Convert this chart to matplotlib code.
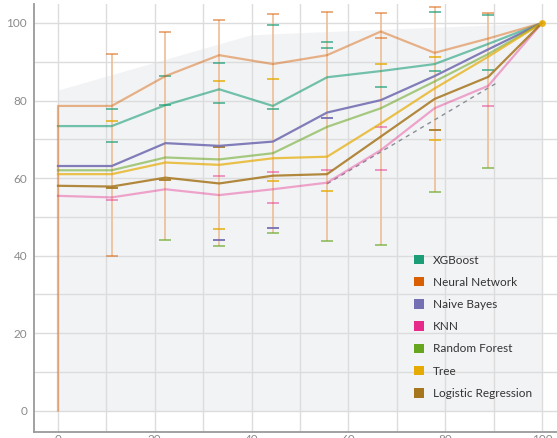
import numpy as np
import matplotlib
matplotlib.use("Agg")
import matplotlib.pyplot as plt
from matplotlib.patches import Patch

# x positions of the evaluation points (percent)
steps = [0, 11.1, 22.2, 33.3, 44.4, 55.6, 66.7, 77.8, 88.9, 100]

models = ["XGBoost", "Neural Network", "Naive Bayes", "KNN",
          "Random Forest", "Tree", "Logistic Regression"]
colors = ["#1b9e77", "#d95f02", "#7570b3", "#e7298a",
          "#66a61e", "#e6ab02", "#a6761d"]
line_alpha = [0.6, 0.45, 0.9, 0.4, 0.55, 0.7, 0.85]

xgboost = [73.4, 73.4, 78.8, 82.9, 78.6, 86.0, 87.6, 89.4, 94.6, 100]
neural_net = [78.6, 78.6, 86.3, 91.7, 89.4, 91.7, 97.8, 92.3, 96.0, 100]
naive_bayes = [63.1, 63.1, 69.0, 68.3, 69.4, 76.9, 80.1, 86.3, 93.2, 100]
knn = [55.4, 55.0, 57.1, 55.6, 57.1, 58.8, 67.2, 78.0, 83.8, 100]
random_forest = [62.0, 62.0, 65.3, 64.8, 66.4, 73.2, 78.0, 84.9, 92.0, 100]
tree = [61.0, 61.0, 64.0, 63.4, 65.1, 65.5, 74.1, 83.1, 91.3, 100]
logistic = [58.0, 57.8, 60.1, 58.6, 60.6, 61.0, 70.7, 80.4, 86.1, 100]
series = [xgboost, neural_net, naive_bayes, knn, random_forest, tree, logistic]

# error bar ends at the inner points (nan = no cap)
nan = np.nan
err_x = steps[1:-1]
xgb_lo = [69.2, 78.8, 79.3, 77.8, 93.5, 83.4, 87.6, 88.0]
xgb_hi = [77.8, 86.3, 89.8, 99.5, 95.2, nan, 102.9, 102.1]
nn_lo = [39.9, nan, nan, nan, nan, 96.0, nan, nan]
nn_hi = [91.9, 97.8, 100.8, 102.2, 102.9, 102.5, 104.0, 102.5]
nb_lo = [nan, nan, 44.0, 47.0, 75.4, nan, nan, nan]
nb_hi = [nan, nan, nan, nan, nan, nan, nan, nan]
knn_lo = [54.3, nan, nan, 53.5, nan, 62.1, nan, 78.7]
knn_hi = [nan, nan, 60.6, 61.5, 62.1, 73.2, nan, nan]
rf_lo = [nan, 44.0, 42.5, 45.9, 43.8, 42.7, 56.3, 62.5]
rf_hi = [nan, nan, nan, nan, nan, nan, nan, nan]
tree_lo = [nan, nan, 46.9, 59.3, 56.6, nan, 69.8, nan]
tree_hi = [74.8, nan, 85.1, 85.5, nan, 89.3, 91.3, nan]
lr_lo = [57.4, 59.5, nan, nan, nan, nan, nan, nan]
lr_hi = [nan, nan, 68.1, nan, nan, nan, 72.4, nan]
lows = [xgb_lo, nn_lo, nb_lo, knn_lo, rf_lo, tree_lo, lr_lo]
highs = [xgb_hi, nn_hi, nb_hi, knn_hi, rf_hi, tree_hi, lr_hi]

# shaded envelope behind the curves
band_x = [0, 39.7, 44.0, 100]
band_top = [82.7, 96.9, 97.2, 100]

# dashed reference segment
ref_x = [55.6, 90.6]
ref_y = [58.5, 84.5]

plt.rcParams["font.family"] = ["Lato", "DejaVu Sans"]

W, H = 557, 438
fig = plt.figure(figsize=(W / 100, H / 100), dpi=100)
ax = fig.add_axes([34 / W, 6.5 / H, (W - 34) / W, (431.5 - 4) / H])
ax.set_xlim(-4.96, 103.1)
ax.set_ylim(-5.4, 104.9)

ax.fill_between(band_x, 0, band_top, color="#f2f3f5", lw=0, zorder=0)

ax.set_xticks(np.arange(0, 101, 20))
ax.set_yticks(np.arange(0, 101, 20))
ax.set_xticks(np.arange(10, 101, 20), minor=True)
ax.set_yticks(np.arange(10, 101, 20), minor=True)
ax.grid(True, which="both", color="#dcdcdc", lw=1.0, zorder=1)
ax.set_axisbelow(True)
ax.tick_params(which="both", length=0, labelsize=8.5, labelcolor="#8a8a8a")
ax.tick_params(axis="y", pad=5)
ax.tick_params(axis="x", pad=2)
for side in ["top", "right"]:
    ax.spines[side].set_visible(False)
for side in ["left", "bottom"]:
    ax.spines[side].set_color("#9a9a9a")
    ax.spines[side].set_linewidth(1.3)

# vertical whiskers span every model's caps at each point
all_lo = np.nanmin(np.array(lows, dtype=float), axis=0)
all_hi = np.nanmax(np.array(highs, dtype=float), axis=0)
ax.vlines(err_x, all_lo, all_hi, color="#ecbf96", lw=1.2, zorder=2)

for vals, lo, hi, c, a in zip(series, lows, highs, colors, line_alpha):
    ax.plot(err_x, lo, ls="none", marker="_", ms=8, mew=1.3, color=c,
            alpha=min(1, a + 0.1), zorder=3)
    ax.plot(err_x, hi, ls="none", marker="_", ms=8, mew=1.3, color=c,
            alpha=min(1, a + 0.1), zorder=3)

ax.plot(ref_x, ref_y, ls=(0, (3, 3)), color="#8a8f96", lw=1.0, zorder=4)

for name, vals, c, a in zip(models, series, colors, line_alpha):
    xs, ys = list(steps), list(vals)
    if name == "Neural Network":
        xs, ys = [0] + xs, [0] + ys
    ax.plot(xs, ys, color=c, alpha=a, lw=1.6, zorder=5)

ax.plot(steps[-1], tree[-1], "o", ms=4, color="#e6ab02", alpha=0.8, zorder=6)

handles = [Patch(facecolor=c, edgecolor="none", label=m)
           for m, c in zip(models, colors)]
leg = ax.legend(handles=handles, loc="upper left", frameon=False,
                bbox_to_anchor=(403 / W, 1 - 244 / H),
                bbox_transform=fig.transFigure,
                fontsize=8.5, handlelength=0.85, handleheight=0.85,
                handletextpad=0.8, labelspacing=0.95)
for t in leg.get_texts():
    t.set_color("#333333")

fig.savefig("out.png", dpi=100)
